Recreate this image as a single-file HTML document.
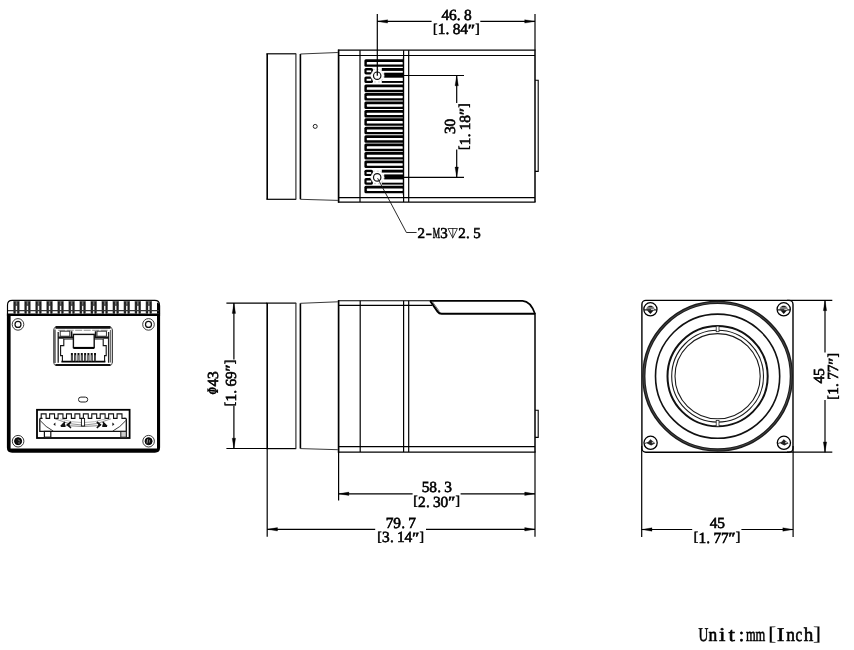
<!DOCTYPE html>
<html lang="en"><head><meta charset="utf-8"><title>Camera dimensions</title>
<style>html,body{margin:0;padding:0;background:#fff;}body{width:854px;height:650px;overflow:hidden;}svg{display:block;will-change:transform;font-family:'Liberation Serif', 'Noto Serif CJK SC', serif;}text{text-rendering:geometricPrecision;fill:#000;stroke:#000;stroke-width:0.6px;}</style></head><body>
<svg width="854" height="650" viewBox="0 0 854 650">
<rect x="0" y="0" width="854" height="650" fill="#fff"/>
<g id="top-view">
<line x1="267.20" y1="53.80" x2="267.20" y2="199.30" stroke="#000" stroke-width="1.6" />
<line x1="266.40" y1="53.80" x2="296.20" y2="53.80" stroke="#000" stroke-width="1.2" />
<line x1="266.40" y1="199.30" x2="296.20" y2="199.30" stroke="#000" stroke-width="1.2" />
<line x1="295.90" y1="53.80" x2="295.90" y2="199.30" stroke="#333" stroke-width="1.2" />
<line x1="300.40" y1="54.00" x2="300.40" y2="199.30" stroke="#000" stroke-width="1.6" />
<line x1="300.40" y1="54.00" x2="337.80" y2="52.50" stroke="#222" stroke-width="0.9" />
<line x1="300.40" y1="199.30" x2="337.80" y2="200.40" stroke="#222" stroke-width="0.9" />
<line x1="338.60" y1="49.60" x2="338.60" y2="202.60" stroke="#000" stroke-width="1.7" />
<line x1="338.00" y1="50.20" x2="535.60" y2="50.20" stroke="#000" stroke-width="1.25" />
<line x1="338.00" y1="202.00" x2="535.60" y2="202.00" stroke="#000" stroke-width="1.25" />
<line x1="535.00" y1="50.20" x2="535.00" y2="202.00" stroke="#000" stroke-width="1.5" />
<line x1="338.60" y1="55.50" x2="535.00" y2="55.50" stroke="#000" stroke-width="1.2" />
<line x1="338.60" y1="197.60" x2="535.00" y2="197.60" stroke="#000" stroke-width="1.2" />
<line x1="360.00" y1="50.20" x2="360.00" y2="202.00" stroke="#000" stroke-width="1.2" />
<line x1="403.60" y1="50.20" x2="403.60" y2="202.00" stroke="#000" stroke-width="1.2" />
<line x1="408.70" y1="50.20" x2="408.70" y2="202.00" stroke="#000" stroke-width="1.2" />
<path d="M535.0 80.2 H538.2 V171.4 H535.0" stroke="#000" stroke-width="1.1" fill="none" />
<circle cx="315.20" cy="126.40" r="2.00" stroke="#222" stroke-width="1.0" fill="none"/>
<path d="M403.40 59.30 H365.90 Q364.40 59.30 364.40 60.80 V65.35 Q364.40 66.85 365.90 66.85 H403.40 Z" fill="#000"/>
<rect x="366.80" y="62.05" width="36.10" height="2.45" rx="0.6" fill="#fff"/>
<path d="M403.40 84.59 H365.90 Q364.40 84.59 364.40 86.09 V90.64 Q364.40 92.14 365.90 92.14 H403.40 Z" fill="#000"/>
<rect x="366.80" y="87.34" width="36.10" height="2.45" rx="0.6" fill="#fff"/>
<path d="M403.40 93.02 H365.90 Q364.40 93.02 364.40 94.52 V99.07 Q364.40 100.57 365.90 100.57 H403.40 Z" fill="#000"/>
<rect x="366.80" y="95.77" width="36.10" height="2.45" rx="0.6" fill="#fff"/>
<path d="M403.40 101.45 H365.90 Q364.40 101.45 364.40 102.95 V107.50 Q364.40 109.00 365.90 109.00 H403.40 Z" fill="#000"/>
<rect x="366.80" y="104.20" width="36.10" height="2.45" rx="0.6" fill="#fff"/>
<path d="M403.40 109.88 H365.90 Q364.40 109.88 364.40 111.38 V115.93 Q364.40 117.43 365.90 117.43 H403.40 Z" fill="#000"/>
<rect x="366.80" y="112.63" width="36.10" height="2.45" rx="0.6" fill="#fff"/>
<path d="M403.40 118.31 H365.90 Q364.40 118.31 364.40 119.81 V124.36 Q364.40 125.86 365.90 125.86 H403.40 Z" fill="#000"/>
<rect x="366.80" y="121.06" width="36.10" height="2.45" rx="0.6" fill="#fff"/>
<path d="M403.40 126.74 H365.90 Q364.40 126.74 364.40 128.24 V132.79 Q364.40 134.29 365.90 134.29 H403.40 Z" fill="#000"/>
<rect x="366.80" y="129.49" width="36.10" height="2.45" rx="0.6" fill="#fff"/>
<path d="M403.40 135.17 H365.90 Q364.40 135.17 364.40 136.67 V141.22 Q364.40 142.72 365.90 142.72 H403.40 Z" fill="#000"/>
<rect x="366.80" y="137.92" width="36.10" height="2.45" rx="0.6" fill="#fff"/>
<path d="M403.40 143.60 H365.90 Q364.40 143.60 364.40 145.10 V149.65 Q364.40 151.15 365.90 151.15 H403.40 Z" fill="#000"/>
<rect x="366.80" y="146.35" width="36.10" height="2.45" rx="0.6" fill="#fff"/>
<path d="M403.40 152.03 H365.90 Q364.40 152.03 364.40 153.53 V158.08 Q364.40 159.58 365.90 159.58 H403.40 Z" fill="#000"/>
<rect x="366.80" y="154.78" width="36.10" height="2.45" rx="0.6" fill="#fff"/>
<path d="M403.40 160.46 H365.90 Q364.40 160.46 364.40 161.96 V166.51 Q364.40 168.01 365.90 168.01 H403.40 Z" fill="#000"/>
<rect x="366.80" y="163.21" width="36.10" height="2.45" rx="0.6" fill="#fff"/>
<path d="M403.40 185.75 H365.90 Q364.40 185.75 364.40 187.25 V191.80 Q364.40 193.30 365.90 193.30 H403.40 Z" fill="#000"/>
<rect x="366.80" y="188.50" width="36.10" height="2.45" rx="0.6" fill="#fff"/>
<rect x="364.40" y="68.00" width="8.6" height="6.40" rx="1.6" fill="#000"/>
<rect x="366.60" y="70.40" width="4.6" height="1.80" fill="#fff"/>
<rect x="364.40" y="76.40" width="8.6" height="6.60" rx="1.6" fill="#000"/>
<rect x="366.60" y="78.80" width="4.6" height="2.00" fill="#fff"/>
<rect x="381.8" y="68.00" width="21.60" height="2.9" fill="#000"/>
<rect x="384.2" y="72.70" width="19.20" height="5.0" fill="#000"/>
<rect x="381.8" y="81.00" width="21.60" height="1.9" fill="#000"/>
<polygon points="384.40,75.70 380.80,81.94 373.60,81.94 370.00,75.70 373.60,69.46 380.80,69.46" fill="#fff"/>
<polygon points="384.40,75.70 380.80,81.94 373.60,81.94 370.00,75.70 373.60,69.46 380.80,69.46" fill="none" stroke="#999" stroke-width="0.5" stroke-dasharray="2 2"/>
<circle cx="377.20" cy="75.70" r="3.70" stroke="#111" stroke-width="1.2" fill="none"/>
<rect x="364.40" y="169.70" width="8.6" height="6.40" rx="1.6" fill="#000"/>
<rect x="366.60" y="172.10" width="4.6" height="1.80" fill="#fff"/>
<rect x="364.40" y="178.10" width="8.6" height="6.60" rx="1.6" fill="#000"/>
<rect x="366.60" y="180.50" width="4.6" height="2.00" fill="#fff"/>
<rect x="381.8" y="169.70" width="21.60" height="2.9" fill="#000"/>
<rect x="384.2" y="174.40" width="19.20" height="5.0" fill="#000"/>
<rect x="381.8" y="182.70" width="21.60" height="1.9" fill="#000"/>
<polygon points="384.40,177.40 380.80,183.64 373.60,183.64 370.00,177.40 373.60,171.16 380.80,171.16" fill="#fff"/>
<polygon points="384.40,177.40 380.80,183.64 373.60,183.64 370.00,177.40 373.60,171.16 380.80,171.16" fill="none" stroke="#999" stroke-width="0.5" stroke-dasharray="2 2"/>
<circle cx="377.20" cy="177.40" r="3.70" stroke="#111" stroke-width="1.2" fill="none"/>
<line x1="403.40" y1="57.50" x2="403.40" y2="195.00" stroke="#000" stroke-width="1.2" />
<line x1="377.30" y1="14.00" x2="377.30" y2="75.70" stroke="#000" stroke-width="1.2" />
<line x1="535.00" y1="14.00" x2="535.00" y2="50.20" stroke="#000" stroke-width="1.2" />
<line x1="377.30" y1="21.40" x2="431.60" y2="21.40" stroke="#000" stroke-width="1.2" />
<line x1="480.30" y1="21.40" x2="535.00" y2="21.40" stroke="#000" stroke-width="1.2" />
<polygon points="377.30,21.40 387.60,19.70 387.60,23.10" fill="#000" stroke="#000" stroke-width="0.3"/>
<polygon points="535.00,21.40 524.70,19.70 524.70,23.10" fill="#000" stroke="#000" stroke-width="0.3"/>
<text x="445.35 452.85 458.80 467.85" y="20.00 20.00 20.00 20.00" font-size="15.4" font-weight="normal" text-anchor="middle">46.8</text>
<text x="435.20 441.60 447.55 456.60 464.10 471.40 477.40" y="32.90 34.40 34.40 34.40 34.40 35.00 32.90" font-size="15.4" font-weight="normal" text-anchor="middle"><tspan font-size="13.4">[</tspan>1.84<tspan font-weight="bold" font-style="italic">″</tspan><tspan font-size="13.4">]</tspan></text>
<line x1="403.40" y1="75.50" x2="464.00" y2="75.50" stroke="#000" stroke-width="1.2" />
<line x1="403.40" y1="177.30" x2="464.00" y2="177.30" stroke="#000" stroke-width="1.2" />
<line x1="456.70" y1="75.50" x2="456.70" y2="103.00" stroke="#000" stroke-width="1.2" />
<line x1="456.70" y1="149.60" x2="456.70" y2="177.30" stroke="#000" stroke-width="1.2" />
<polygon points="456.70,75.50 455.00,85.80 458.40,85.80" fill="#000" stroke="#000" stroke-width="0.3"/>
<polygon points="456.70,177.30 455.00,167.00 458.40,167.00" fill="#000" stroke="#000" stroke-width="0.3"/>
<g transform="translate(456.70,126.40) rotate(-90)"><text x="-3.75 3.75" y="-1.40 -1.40" font-size="15.4" font-weight="normal" text-anchor="middle">30</text></g>
<g transform="translate(456.70,126.40) rotate(-90)"><text x="-21.40 -15.00 -9.05 0.00 7.50 14.80 20.80" y="11.50 13.00 13.00 13.00 13.00 13.60 11.50" font-size="15.4" font-weight="normal" text-anchor="middle"><tspan font-size="13.4">[</tspan>1.18<tspan font-weight="bold" font-style="italic">″</tspan><tspan font-size="13.4">]</tspan></text></g>
<path d="M377.6 178.2 L406.4 232.5 H416.6" stroke="#111" stroke-width="0.9" fill="none" />
<text y="238.0" font-size="15" font-weight="normal" stroke-width="0.7"><tspan x="421.35" text-anchor="middle">2</tspan><tspan x="425.80" text-anchor="start" textLength="6.1" lengthAdjust="spacingAndGlyphs">-</tspan><tspan x="432.70" text-anchor="start" textLength="7.3" lengthAdjust="spacingAndGlyphs">M</tspan><tspan x="444.05" text-anchor="middle">3</tspan><tspan x="452.80" dy="-0.6" text-anchor="middle" font-family="'DejaVu Sans', sans-serif" font-weight="normal" font-size="13.6" stroke-width="0">▽</tspan><tspan x="461.95" dy="0.6" text-anchor="middle">2</tspan><tspan x="467.80" text-anchor="middle">.</tspan><tspan x="476.95" text-anchor="middle">5</tspan></text>
<line x1="452.80" y1="228.00" x2="452.80" y2="237.40" stroke="#111" stroke-width="0.8" />
</g>
<g id="side-view">
<line x1="267.20" y1="303.10" x2="267.20" y2="448.60" stroke="#000" stroke-width="1.6" />
<line x1="266.40" y1="303.10" x2="296.20" y2="303.10" stroke="#000" stroke-width="1.2" />
<line x1="266.40" y1="448.60" x2="296.20" y2="448.60" stroke="#000" stroke-width="1.2" />
<line x1="295.90" y1="303.10" x2="295.90" y2="448.60" stroke="#333" stroke-width="1.2" />
<line x1="300.40" y1="303.30" x2="300.40" y2="448.60" stroke="#000" stroke-width="1.6" />
<line x1="300.40" y1="303.30" x2="337.80" y2="301.80" stroke="#222" stroke-width="0.9" />
<line x1="300.40" y1="448.60" x2="337.80" y2="449.70" stroke="#222" stroke-width="0.9" />
<line x1="338.60" y1="300.20" x2="338.60" y2="452.70" stroke="#000" stroke-width="1.7" />
<line x1="338.00" y1="300.80" x2="430.50" y2="300.80" stroke="#000" stroke-width="1.1" />
<line x1="338.00" y1="452.10" x2="535.60" y2="452.10" stroke="#000" stroke-width="1.25" />
<line x1="338.60" y1="305.40" x2="432.00" y2="305.40" stroke="#000" stroke-width="1.2" />
<line x1="338.60" y1="446.70" x2="535.00" y2="446.70" stroke="#000" stroke-width="1.2" />
<line x1="360.20" y1="300.80" x2="360.20" y2="452.10" stroke="#000" stroke-width="1.2" />
<line x1="403.60" y1="300.80" x2="403.60" y2="452.10" stroke="#000" stroke-width="1.2" />
<line x1="408.70" y1="300.80" x2="408.70" y2="452.10" stroke="#000" stroke-width="1.2" />
<path d="M430.0 300.9 H522.6 C529.0 301.2 532.6 307.0 535.0 313.8" stroke="#000" stroke-width="1.7" fill="none" />
<path d="M430.2 301.0 L437.6 311.6 Q439.2 313.8 441.6 313.8 H535.0" stroke="#000" stroke-width="2.0" fill="none" />
<path d="M432.0 301.2 L439.4 311.4" stroke="#444" stroke-width="0.8" fill="none" />
<line x1="535.00" y1="313.00" x2="535.00" y2="452.10" stroke="#000" stroke-width="1.5" />
<path d="M535.0 410.3 H538.2 V437.4 H535.0" stroke="#000" stroke-width="1.1" fill="none" />
<line x1="226.40" y1="303.10" x2="267.20" y2="303.10" stroke="#000" stroke-width="1.2" />
<line x1="226.40" y1="448.50" x2="267.20" y2="448.50" stroke="#000" stroke-width="1.2" />
<line x1="233.90" y1="303.10" x2="233.90" y2="359.60" stroke="#000" stroke-width="1.2" />
<line x1="233.90" y1="405.80" x2="233.90" y2="448.50" stroke="#000" stroke-width="1.2" />
<polygon points="233.90,303.10 232.20,313.40 235.60,313.40" fill="#000" stroke="#000" stroke-width="0.3"/>
<polygon points="233.90,448.50 232.20,438.20 235.60,438.20" fill="#000" stroke="#000" stroke-width="0.3"/>
<g transform="translate(218.0,382.7) rotate(-90)"><text y="0" font-size="15.4"><tspan x="-11.9" text-anchor="start" font-family="'DejaVu Serif', serif" font-size="14.6" font-weight="bold" font-style="italic" stroke-width="0.15" textLength="7.6" lengthAdjust="spacingAndGlyphs">Φ</tspan><tspan x="0" text-anchor="middle">4</tspan><tspan x="7.5" text-anchor="middle">3</tspan></text></g>
<g transform="translate(235.80,382.70) rotate(-90)"><text x="-21.40 -15.00 -9.05 0.00 7.50 14.80 20.80" y="-1.50 0.00 0.00 0.00 0.00 0.60 -1.50" font-size="15.4" font-weight="normal" text-anchor="middle"><tspan font-size="13.4">[</tspan>1.69<tspan font-weight="bold" font-style="italic">″</tspan><tspan font-size="13.4">]</tspan></text></g>
<line x1="338.60" y1="452.10" x2="338.60" y2="500.40" stroke="#000" stroke-width="1.2" />
<line x1="535.00" y1="452.10" x2="535.00" y2="536.80" stroke="#000" stroke-width="1.2" />
<line x1="338.60" y1="493.80" x2="412.60" y2="493.80" stroke="#000" stroke-width="1.2" />
<line x1="460.60" y1="493.80" x2="535.00" y2="493.80" stroke="#000" stroke-width="1.2" />
<polygon points="338.60,493.80 348.90,492.10 348.90,495.50" fill="#000" stroke="#000" stroke-width="0.3"/>
<polygon points="535.00,493.80 524.70,492.10 524.70,495.50" fill="#000" stroke="#000" stroke-width="0.3"/>
<text x="425.65 433.15 439.10 448.15" y="492.40 492.40 492.40 492.40" font-size="15.4" font-weight="normal" text-anchor="middle">58.3</text>
<text x="415.50 421.90 427.85 436.90 444.40 451.70 457.70" y="505.30 506.80 506.80 506.80 506.80 507.40 505.30" font-size="15.4" font-weight="normal" text-anchor="middle"><tspan font-size="13.4">[</tspan>2.30<tspan font-weight="bold" font-style="italic">″</tspan><tspan font-size="13.4">]</tspan></text>
<line x1="267.20" y1="448.50" x2="267.20" y2="536.80" stroke="#000" stroke-width="1.2" />
<line x1="267.20" y1="529.30" x2="375.20" y2="529.30" stroke="#000" stroke-width="1.2" />
<line x1="426.00" y1="529.30" x2="535.00" y2="529.30" stroke="#000" stroke-width="1.2" />
<polygon points="267.20,529.30 277.50,527.60 277.50,531.00" fill="#000" stroke="#000" stroke-width="0.3"/>
<polygon points="535.00,529.30 524.70,527.60 524.70,531.00" fill="#000" stroke="#000" stroke-width="0.3"/>
<text x="389.65 397.15 403.10 412.15" y="527.90 527.90 527.90 527.90" font-size="15.4" font-weight="normal" text-anchor="middle">79.7</text>
<text x="379.50 385.90 391.85 400.90 408.40 415.70 421.70" y="540.80 542.30 542.30 542.30 542.30 542.90 540.80" font-size="15.4" font-weight="normal" text-anchor="middle"><tspan font-size="13.4">[</tspan>3.14<tspan font-weight="bold" font-style="italic">″</tspan><tspan font-size="13.4">]</tspan></text>
</g>
<g id="front-view">
<rect x="641.90" y="300.40" width="151.10" height="151.80" rx="4" stroke="#000" stroke-width="1.4" fill="none" />
<circle cx="717.60" cy="376.20" r="73.80" stroke="#1c1c1c" stroke-width="3.3" fill="none"/>
<circle cx="717.60" cy="376.20" r="73.80" stroke="#555" stroke-width="0.7" fill="none"/>
<circle cx="717.60" cy="376.20" r="62.10" stroke="#111" stroke-width="1.6" fill="none"/>
<circle cx="717.60" cy="376.20" r="50.10" stroke="#111" stroke-width="2.0" fill="none"/>
<circle cx="717.60" cy="376.20" r="45.90" stroke="#1a1a1a" stroke-width="1.1" fill="none"/>
<circle cx="717.60" cy="376.20" r="42.60" stroke="#1a1a1a" stroke-width="1.1" fill="none"/>
<rect x="716.20" y="326.10" width="2.80" height="5.60" rx="0" stroke="#222" stroke-width="0.8" fill="#fff" />
<rect x="716.20" y="420.50" width="2.80" height="5.80" rx="0" stroke="#222" stroke-width="0.8" fill="#fff" />
<circle cx="650.40" cy="309.30" r="6.60" stroke="#000" stroke-width="1.3" fill="#fff"/>
<path d="M646.20 309.70 A4.2 4.2 0 0 1 654.60 309.70 Z" fill="#777"/>
<line x1="643.90" y1="309.90" x2="656.90" y2="309.90" stroke="#111" stroke-width="1.2" />
<polygon points="647.00,310.30 653.80,310.30 650.40,314.10" fill="#111"/>
<line x1="648.60" y1="306.50" x2="652.20" y2="306.50" stroke="#111" stroke-width="0.9" />
<line x1="651.00" y1="309.40" x2="654.00" y2="309.40" stroke="#e8e8e8" stroke-width="0.9" />
<circle cx="783.70" cy="309.30" r="6.60" stroke="#000" stroke-width="1.3" fill="#fff"/>
<path d="M779.50 309.70 A4.2 4.2 0 0 1 787.90 309.70 Z" fill="#777"/>
<line x1="777.20" y1="309.90" x2="790.20" y2="309.90" stroke="#111" stroke-width="1.2" />
<polygon points="780.30,310.30 787.10,310.30 783.70,314.10" fill="#111"/>
<line x1="781.90" y1="306.50" x2="785.50" y2="306.50" stroke="#111" stroke-width="0.9" />
<line x1="784.30" y1="309.40" x2="787.30" y2="309.40" stroke="#e8e8e8" stroke-width="0.9" />
<circle cx="650.60" cy="442.80" r="6.60" stroke="#000" stroke-width="1.3" fill="#fff"/>
<polygon points="647.00,443.40 650.40,439.20 655.20,443.20 651.20,445.60" fill="#222"/>
<rect x="651.80" y="441.80" width="1.8" height="1.4" fill="#bbb"/>
<line x1="644.20" y1="443.60" x2="648.60" y2="442.20" stroke="#222" stroke-width="0.9" />
<circle cx="783.90" cy="442.80" r="6.60" stroke="#000" stroke-width="1.3" fill="#fff"/>
<polygon points="780.30,443.40 783.70,439.20 788.50,443.20 784.50,445.60" fill="#222"/>
<rect x="785.10" y="441.80" width="1.8" height="1.4" fill="#bbb"/>
<line x1="777.50" y1="443.60" x2="781.90" y2="442.20" stroke="#222" stroke-width="0.9" />
<line x1="787.00" y1="300.40" x2="832.30" y2="300.40" stroke="#000" stroke-width="1.2" />
<line x1="787.00" y1="452.20" x2="832.30" y2="452.20" stroke="#000" stroke-width="1.2" />
<line x1="825.00" y1="300.40" x2="825.00" y2="352.40" stroke="#000" stroke-width="1.2" />
<line x1="825.00" y1="400.00" x2="825.00" y2="452.20" stroke="#000" stroke-width="1.2" />
<polygon points="825.00,300.40 823.30,310.70 826.70,310.70" fill="#000" stroke="#000" stroke-width="0.3"/>
<polygon points="825.00,452.20 823.30,441.90 826.70,441.90" fill="#000" stroke="#000" stroke-width="0.3"/>
<g transform="translate(825.00,376.00) rotate(-90)"><text x="-3.75 3.75" y="-1.40 -1.40" font-size="15.4" font-weight="normal" text-anchor="middle">45</text></g>
<g transform="translate(825.00,376.00) rotate(-90)"><text x="-21.40 -15.00 -9.05 0.00 7.50 14.80 20.80" y="11.50 13.00 13.00 13.00 13.00 13.60 11.50" font-size="15.4" font-weight="normal" text-anchor="middle"><tspan font-size="13.4">[</tspan>1.77<tspan font-weight="bold" font-style="italic">″</tspan><tspan font-size="13.4">]</tspan></text></g>
<line x1="641.70" y1="446.00" x2="641.70" y2="537.00" stroke="#000" stroke-width="1.2" />
<line x1="793.10" y1="446.00" x2="793.10" y2="537.00" stroke="#000" stroke-width="1.2" />
<line x1="641.70" y1="529.50" x2="692.20" y2="529.50" stroke="#000" stroke-width="1.2" />
<line x1="741.40" y1="529.50" x2="793.10" y2="529.50" stroke="#000" stroke-width="1.2" />
<polygon points="641.70,529.50 652.00,527.80 652.00,531.20" fill="#000" stroke="#000" stroke-width="0.3"/>
<polygon points="793.10,529.50 782.80,527.80 782.80,531.20" fill="#000" stroke="#000" stroke-width="0.3"/>
<text x="713.55 721.05" y="528.10 528.10" font-size="15.4" font-weight="normal" text-anchor="middle">45</text>
<text x="695.90 702.30 708.25 717.30 724.80 732.10 738.10" y="541.00 542.50 542.50 542.50 542.50 543.10 541.00" font-size="15.4" font-weight="normal" text-anchor="middle"><tspan font-size="13.4">[</tspan>1.77<tspan font-weight="bold" font-style="italic">″</tspan><tspan font-size="13.4">]</tspan></text>
</g>
<g id="back-view">
<path d="M7.5 316 V305 Q7.5 300.3 12.2 300.3 H154.8 Q159.5 300.3 159.5 305 V316" stroke="#000" stroke-width="1.15" fill="none" />
<path d="M6.9 313.6 H160.1 V447.6 Q160.1 452.8 154.9 452.8 H12.1 Q6.9 452.8 6.9 447.6 Z M10.6 316.1 V448.6 H157.0 V316.1 Z" fill="#000" fill-rule="evenodd"/>
<rect x="13.30" y="300.9" width="6.3" height="12.8" fill="#6e6e6e"/>
<rect x="13.80" y="301.6" width="1.8" height="12.0" fill="#1c1c1c"/>
<rect x="17.30" y="301.6" width="1.8" height="12.0" fill="#1c1c1c"/>
<rect x="15.80" y="305.5" width="1.3" height="8.0" fill="#eee"/>
<rect x="13.80" y="304.6" width="5.3" height="1.0" fill="#333"/>
<rect x="24.33" y="300.9" width="6.3" height="12.8" fill="#6e6e6e"/>
<rect x="24.83" y="301.6" width="1.8" height="12.0" fill="#1c1c1c"/>
<rect x="28.33" y="301.6" width="1.8" height="12.0" fill="#1c1c1c"/>
<rect x="26.83" y="305.5" width="1.3" height="8.0" fill="#eee"/>
<rect x="24.83" y="304.6" width="5.3" height="1.0" fill="#333"/>
<rect x="35.36" y="300.9" width="6.3" height="12.8" fill="#6e6e6e"/>
<rect x="35.86" y="301.6" width="1.8" height="12.0" fill="#1c1c1c"/>
<rect x="39.36" y="301.6" width="1.8" height="12.0" fill="#1c1c1c"/>
<rect x="37.86" y="305.5" width="1.3" height="8.0" fill="#eee"/>
<rect x="35.86" y="304.6" width="5.3" height="1.0" fill="#333"/>
<rect x="46.39" y="300.9" width="6.3" height="12.8" fill="#6e6e6e"/>
<rect x="46.89" y="301.6" width="1.8" height="12.0" fill="#1c1c1c"/>
<rect x="50.39" y="301.6" width="1.8" height="12.0" fill="#1c1c1c"/>
<rect x="48.89" y="305.5" width="1.3" height="8.0" fill="#eee"/>
<rect x="46.89" y="304.6" width="5.3" height="1.0" fill="#333"/>
<rect x="57.42" y="300.9" width="6.3" height="12.8" fill="#6e6e6e"/>
<rect x="57.92" y="301.6" width="1.8" height="12.0" fill="#1c1c1c"/>
<rect x="61.42" y="301.6" width="1.8" height="12.0" fill="#1c1c1c"/>
<rect x="59.92" y="305.5" width="1.3" height="8.0" fill="#eee"/>
<rect x="57.92" y="304.6" width="5.3" height="1.0" fill="#333"/>
<rect x="68.45" y="300.9" width="6.3" height="12.8" fill="#6e6e6e"/>
<rect x="68.95" y="301.6" width="1.8" height="12.0" fill="#1c1c1c"/>
<rect x="72.45" y="301.6" width="1.8" height="12.0" fill="#1c1c1c"/>
<rect x="70.95" y="305.5" width="1.3" height="8.0" fill="#eee"/>
<rect x="68.95" y="304.6" width="5.3" height="1.0" fill="#333"/>
<rect x="79.48" y="300.9" width="6.3" height="12.8" fill="#6e6e6e"/>
<rect x="79.98" y="301.6" width="1.8" height="12.0" fill="#1c1c1c"/>
<rect x="83.48" y="301.6" width="1.8" height="12.0" fill="#1c1c1c"/>
<rect x="81.98" y="305.5" width="1.3" height="8.0" fill="#eee"/>
<rect x="79.98" y="304.6" width="5.3" height="1.0" fill="#333"/>
<rect x="90.51" y="300.9" width="6.3" height="12.8" fill="#6e6e6e"/>
<rect x="91.01" y="301.6" width="1.8" height="12.0" fill="#1c1c1c"/>
<rect x="94.51" y="301.6" width="1.8" height="12.0" fill="#1c1c1c"/>
<rect x="93.01" y="305.5" width="1.3" height="8.0" fill="#eee"/>
<rect x="91.01" y="304.6" width="5.3" height="1.0" fill="#333"/>
<rect x="101.54" y="300.9" width="6.3" height="12.8" fill="#6e6e6e"/>
<rect x="102.04" y="301.6" width="1.8" height="12.0" fill="#1c1c1c"/>
<rect x="105.54" y="301.6" width="1.8" height="12.0" fill="#1c1c1c"/>
<rect x="104.04" y="305.5" width="1.3" height="8.0" fill="#eee"/>
<rect x="102.04" y="304.6" width="5.3" height="1.0" fill="#333"/>
<rect x="112.57" y="300.9" width="6.3" height="12.8" fill="#6e6e6e"/>
<rect x="113.07" y="301.6" width="1.8" height="12.0" fill="#1c1c1c"/>
<rect x="116.57" y="301.6" width="1.8" height="12.0" fill="#1c1c1c"/>
<rect x="115.07" y="305.5" width="1.3" height="8.0" fill="#eee"/>
<rect x="113.07" y="304.6" width="5.3" height="1.0" fill="#333"/>
<rect x="123.60" y="300.9" width="6.3" height="12.8" fill="#6e6e6e"/>
<rect x="124.10" y="301.6" width="1.8" height="12.0" fill="#1c1c1c"/>
<rect x="127.60" y="301.6" width="1.8" height="12.0" fill="#1c1c1c"/>
<rect x="126.10" y="305.5" width="1.3" height="8.0" fill="#eee"/>
<rect x="124.10" y="304.6" width="5.3" height="1.0" fill="#333"/>
<rect x="134.63" y="300.9" width="6.3" height="12.8" fill="#6e6e6e"/>
<rect x="135.13" y="301.6" width="1.8" height="12.0" fill="#1c1c1c"/>
<rect x="138.63" y="301.6" width="1.8" height="12.0" fill="#1c1c1c"/>
<rect x="137.13" y="305.5" width="1.3" height="8.0" fill="#eee"/>
<rect x="135.13" y="304.6" width="5.3" height="1.0" fill="#333"/>
<rect x="145.66" y="300.9" width="6.3" height="12.8" fill="#6e6e6e"/>
<rect x="146.16" y="301.6" width="1.8" height="12.0" fill="#1c1c1c"/>
<rect x="149.66" y="301.6" width="1.8" height="12.0" fill="#1c1c1c"/>
<rect x="148.16" y="305.5" width="1.3" height="8.0" fill="#eee"/>
<rect x="146.16" y="304.6" width="5.3" height="1.0" fill="#333"/>
<path d="M157.0 313.8 V302.6 Q159.9 303.2 160.1 306.0 V313.8 Z" fill="#000"/>
<line x1="8.00" y1="310.60" x2="159.00" y2="310.60" stroke="#333" stroke-width="1.2" />
<circle cx="18.00" cy="324.40" r="5.80" stroke="#222" stroke-width="0.9" fill="#fff"/>
<circle cx="18.00" cy="324.40" r="3.00" stroke="#111" stroke-width="1.2" fill="#fff"/>
<circle cx="148.50" cy="324.40" r="5.80" stroke="#222" stroke-width="0.9" fill="#fff"/>
<circle cx="148.50" cy="324.40" r="3.00" stroke="#111" stroke-width="1.2" fill="#fff"/>
<circle cx="18.10" cy="441.20" r="5.80" stroke="#222" stroke-width="0.9" fill="#fff"/>
<circle cx="18.10" cy="441.20" r="3.50" stroke="#000" stroke-width="1.0" fill="#111"/>
<circle cx="148.60" cy="441.20" r="5.80" stroke="#222" stroke-width="0.9" fill="#fff"/>
<circle cx="148.60" cy="441.20" r="3.50" stroke="#000" stroke-width="1.0" fill="#111"/>
<line x1="18.30" y1="439.60" x2="19.80" y2="441.40" stroke="#bbb" stroke-width="0.8" />
<line x1="18.00" y1="443.00" x2="20.00" y2="443.00" stroke="#999" stroke-width="0.7" />
<line x1="147.60" y1="439.20" x2="147.00" y2="443.40" stroke="#bbb" stroke-width="0.8" />
<line x1="149.60" y1="440.00" x2="149.40" y2="442.60" stroke="#999" stroke-width="0.7" />
<rect x="53.60" y="326.90" width="58.80" height="38.60" rx="3.2" stroke="#555" stroke-width="1.0" fill="#fff" />
<path d="M55.5 327.4 H110.5" stroke="#111" stroke-width="2.8" fill="none" />
<path d="M55.5 365.0 H110.5" stroke="#111" stroke-width="2.0" fill="none" />
<path d="M54.6 329.5 V363.0" stroke="#666" stroke-width="2.4" fill="none" />
<path d="M110.4 330.0 V362.5 M112.3 329.5 V363.0" stroke="#333" stroke-width="0.8" fill="none" />
<path d="M58.2 332.0 V362.8 M108.6 332.0 V362.8" stroke="#222" stroke-width="1.3" fill="none" />
<path d="M58.2 330.3 H108.6" stroke="#777" stroke-width="0.8" fill="none" stroke-dasharray="7 1.5"/>
<rect x="60.20" y="331.20" width="9.60" height="5.00" rx="0" stroke="#222" stroke-width="0.9" fill="#fff" />
<rect x="97.00" y="331.20" width="9.40" height="5.00" rx="0" stroke="#222" stroke-width="0.9" fill="#fff" />
<path d="M58.2 337.4 H73.4 M94.2 337.4 H108.6" stroke="#111" stroke-width="1.7" fill="none" />
<path d="M71.6 331.2 V337.4 M95.6 331.2 V337.4" stroke="#111" stroke-width="1.6" fill="none" />
<path d="M62.4 361.6 V355.6 H60.6 V345.6 H63.8 V339.0 H73.2 M94.2 339.0 H103.2 V345.6 H106.2 V355.6 H104.6 V361.6" stroke="#111" stroke-width="1.1" fill="none" />
<path d="M61.4 361.6 H105.4" stroke="#000" stroke-width="1.9" fill="none" />
<path d="M58.2 338.2 H63.8 M103.2 338.2 H108.6" stroke="#222" stroke-width="1.0" fill="none" />
<rect x="73.40" y="334.40" width="20.80" height="13.20" rx="0" stroke="#111" stroke-width="1.4" fill="#fff" />
<path d="M73.4 348.0 H94.2" stroke="#000" stroke-width="1.9" fill="none" />
<rect x="70.90" y="353.0" width="2.0" height="8.2" fill="#111"/>
<rect x="71.60" y="355.2" width="0.7" height="6.0" fill="#aaa"/>
<rect x="74.20" y="353.0" width="2.0" height="8.2" fill="#111"/>
<rect x="74.90" y="355.2" width="0.7" height="6.0" fill="#aaa"/>
<rect x="77.50" y="353.0" width="2.0" height="8.2" fill="#111"/>
<rect x="78.20" y="355.2" width="0.7" height="6.0" fill="#aaa"/>
<rect x="80.80" y="353.0" width="2.0" height="8.2" fill="#111"/>
<rect x="81.50" y="355.2" width="0.7" height="6.0" fill="#aaa"/>
<rect x="84.10" y="353.0" width="2.0" height="8.2" fill="#111"/>
<rect x="84.80" y="355.2" width="0.7" height="6.0" fill="#aaa"/>
<rect x="87.40" y="353.0" width="2.0" height="8.2" fill="#111"/>
<rect x="88.10" y="355.2" width="0.7" height="6.0" fill="#aaa"/>
<rect x="90.70" y="353.0" width="2.0" height="8.2" fill="#111"/>
<rect x="91.40" y="355.2" width="0.7" height="6.0" fill="#aaa"/>
<rect x="94.00" y="353.0" width="2.0" height="8.2" fill="#111"/>
<rect x="94.70" y="355.2" width="0.7" height="6.0" fill="#aaa"/>
<rect x="78.50" y="397.10" width="9.20" height="4.90" rx="2.4" stroke="#222" stroke-width="1.0" fill="#fff" />
<rect x="37.00" y="409.80" width="92.60" height="28.20" rx="0" stroke="#000" stroke-width="1.8" fill="#fff" />
<path d="M41.2 418.4 V413.9 H46.10 V418.4 H49.63 V413.9 H54.53 V418.4 H58.06 V413.9 H62.96 V418.4 H66.49 V413.9 H71.39 V418.4 H74.92 V413.9 H79.82 V418.4 H83.35 V413.9 H88.25 V418.4 H91.78 V413.9 H96.68 V418.4 H100.21 V413.9 H105.11 V418.4 H108.64 V413.9 H113.54 V418.4 H117.07 V413.9 H121.97 V418.4 H125.4 V418.4" stroke="#111" stroke-width="1.1" fill="none" />
<path d="M39.8 418.4 H42.6 M124.2 418.4 H126.3" stroke="#111" stroke-width="1.1" fill="none" />
<path d="M39.8 418.4 V431.4 H126.3 V418.4" stroke="#111" stroke-width="1.3" fill="none" />
<path d="M126.3 431.4 V437.4" stroke="#111" stroke-width="1.2" fill="none" />
<rect x="44.40" y="431.40" width="6.40" height="5.80" rx="0" stroke="#111" stroke-width="1.2" fill="#fff" />
<rect x="120.80" y="431.40" width="5.50" height="5.80" rx="0" stroke="#222" stroke-width="1.0" fill="#ccc" />
<path d="M40.2 420.6 Q45.5 427.0 53.4 431.2" stroke="#222" stroke-width="0.9" fill="none" />
<path d="M125.8 420.6 Q120.5 427.0 112.6 431.2" stroke="#222" stroke-width="0.9" fill="none" />
<path d="M55.0 418.8 Q83.0 431.5 111.0 418.8" stroke="#666" stroke-width="0.7" fill="none" />
<path d="M60.0 418.8 Q83.0 426.5 106.0 418.8" stroke="#888" stroke-width="0.6" fill="none" />
<path d="M66.0 425.6 Q83.0 427.4 100.0 425.6" stroke="#555" stroke-width="0.7" fill="none" />
<rect x="81.40" y="418.40" width="3.20" height="7.60" rx="0" stroke="#111" stroke-width="0.9" fill="#fff" />
<polygon points="53.4,424.2 55.4,422.4 55.4,426.0" fill="#111"/>
<polygon points="114.4,424.2 112.4,422.4 112.4,426.0" fill="#111"/>
<path d="M60.8 426.2 L65.0 422.0 M71.0 421.8 L67.4 424.8 L71.0 428.0 M65.4 426.2 H60.8" stroke="#111" stroke-width="1.5" fill="none" />
<polygon points="60.6,426.6 64.6,422.6 65.6,426.6" fill="#111"/>
<polygon points="66.6,424.8 70.8,422.2 69.4,425.0 71.0,428.0" fill="#111"/>
<path d="M107.0 426.2 L102.8 422.0 M96.8 421.8 L100.4 424.8 L96.8 428.0 M102.4 426.2 H107.0" stroke="#111" stroke-width="1.5" fill="none" />
<polygon points="107.2,426.6 103.2,422.6 102.2,426.6" fill="#111"/>
<polygon points="101.2,424.8 97.0,422.2 98.4,425.0 96.8,428.0" fill="#111"/>
</g>
<g id="unit-note">
<text y="640.6" font-size="19.5" stroke-width="0.4"><tspan x="698.50" y="640.6" text-anchor="start" textLength="9.8" lengthAdjust="spacingAndGlyphs">U</tspan><tspan x="708.55" y="640.6" text-anchor="start" textLength="8.7" lengthAdjust="spacingAndGlyphs">n</tspan><tspan x="719.10" y="640.6" text-anchor="start" textLength="6.4" lengthAdjust="spacingAndGlyphs">i</tspan><tspan x="728.50" y="640.6" text-anchor="start" textLength="6.4" lengthAdjust="spacingAndGlyphs">t</tspan><tspan x="741.50" y="640.6" text-anchor="middle">:</tspan><tspan x="746.05" y="640.6" text-anchor="start" textLength="9.7" lengthAdjust="spacingAndGlyphs">m</tspan><tspan x="755.45" y="640.6" text-anchor="start" textLength="9.7" lengthAdjust="spacingAndGlyphs">m</tspan><tspan x="768.10" y="639.6" text-anchor="start" stroke-width="0.1" textLength="8.2" lengthAdjust="spacingAndGlyphs">[</tspan><tspan x="776.95" y="640.6" text-anchor="start" textLength="7.3" lengthAdjust="spacingAndGlyphs">I</tspan><tspan x="786.15" y="640.6" text-anchor="start" textLength="8.7" lengthAdjust="spacingAndGlyphs">n</tspan><tspan x="795.60" y="640.6" text-anchor="start" textLength="6.6" lengthAdjust="spacingAndGlyphs">c</tspan><tspan x="803.75" y="640.6" text-anchor="start" textLength="9.5" lengthAdjust="spacingAndGlyphs">h</tspan><tspan x="813.10" y="639.6" text-anchor="start" stroke-width="0.1" textLength="8.2" lengthAdjust="spacingAndGlyphs">]</tspan></text>
</g>
</svg></body></html>
